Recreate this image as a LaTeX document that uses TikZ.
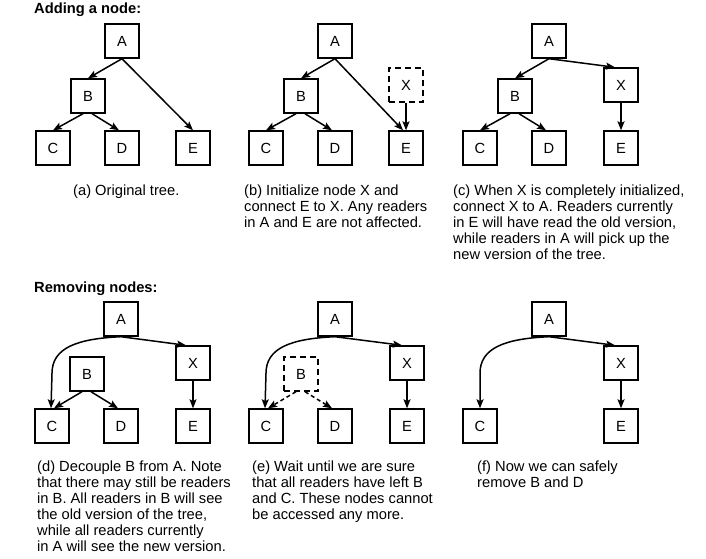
\documentclass[tikz,border=0pt]{standalone}
\usepackage{fontspec}
\setmainfont{Liberation Sans}
\usetikzlibrary{arrows.meta,calc}
\begin{document}
\begin{tikzpicture}[x=1pt,y=-1pt,
  box/.style={draw, line width=1.4pt, minimum width=34pt, minimum height=34pt, inner sep=0pt, font=\fontsize{14.7}{16}\selectfont},
  dbox/.style={box, dash pattern=on 6pt off 4pt},
  arr/.style={-{Stealth[length=9pt,width=7pt,inset=1.8pt]}, line width=1.5pt},
  darr/.style={arr, dash pattern=on 4pt off 3pt},
  captxt/.style={anchor=base west, inner sep=0pt, font=\fontsize{14.7}{16}\selectfont},
  ttl/.style={anchor=base west, inner sep=0pt, font=\fontsize{14.7}{16}\selectfont\bfseries}]
\useasboundingbox (0,0) rectangle (706,558);
\node[ttl] (t1) at (34,13) {Adding a node:};
\node[ttl] (t2) at (34,292) {Removing nodes:};
% (a)
\begin{scope}
\node[box] (aA) at (122,41) {A};
\node[box] (aB) at (88,96) {B};
\node[box] (aC) at (53,148) {C};
\node[box] (aD) at (122,148) {D};
\node[box] (aE) at (193,148) {E};
\draw[arr] (aA.south) -- (aB.north);
\draw[arr] (aA.south) -- (aE.north);
\draw[arr] ([xshift=-5pt]aB.south) -- (aC.north);
\draw[arr] ([xshift=4pt]aB.south) -- ([xshift=-3pt]aD.north);
\end{scope}
% (b)
\begin{scope}[shift={(213,0)}]
\node[box] (bA) at (122,41) {A};
\node[box] (bB) at (88,96) {B};
\node[box] (bC) at (53,148) {C};
\node[box] (bD) at (122,148) {D};
\node[box] (bE) at (193,148) {E};
\node[dbox] (bX) at (193,85) {X};
\draw[arr] (bA.south) -- ([xshift=-3pt]bE.north);
\draw[arr] (bA.south) -- (bB.north);
\draw[arr] ([xshift=-5pt]bB.south) -- (bC.north);
\draw[arr] ([xshift=4pt]bB.south) -- ([xshift=-3pt]bD.north);
\draw[arr] (bX.south) -- (bE.north);
\end{scope}
% (c)
\begin{scope}[shift={(427,0)}]
\node[box] (cA) at (122,41) {A};
\node[box] (cB) at (88,96) {B};
\node[box] (cC) at (53,148) {C};
\node[box] (cD) at (122,148) {D};
\node[box] (cE) at (194,148) {E};
\node[box] (cX) at (194,85) {X};
\draw[arr] (cA.south) -- (cB.north);
\draw[arr] (cA.south) -- ([xshift=-6pt]cX.north);
\draw[arr] ([xshift=-5pt]cB.south) -- (cC.north);
\draw[arr] ([xshift=4pt]cB.south) -- ([xshift=-3pt]cD.north);
\draw[arr] (cX.south) -- (cE.north);
\end{scope}
% (d)
\begin{scope}[shift={(-1,278)}]
\node[box] (dA) at (122,41) {A};
\node[box] (dB) at (88,96) {B};
\node[box] (dC) at (53,148) {C};
\node[box] (dD) at (122,148) {D};
\node[box] (dE) at (194,148) {E};
\node[box] (dX) at (194,85) {X};
\draw[arr] (dA.south) .. controls +(-45,2) and +(0,-25) .. ($(dC.north)+(0,-35)$) -- ([xshift=-1pt]dC.north);
\draw[arr] (dA.south) -- ([xshift=-7pt]dX.north);
\draw[arr] ([xshift=-5pt]dB.south) -- ([xshift=2pt]dC.north);
\draw[arr] ([xshift=4pt]dB.south) -- ([xshift=-3pt]dD.north);
\draw[arr] (dX.south) -- (dE.north);
\end{scope}
% (e)
\begin{scope}[shift={(213,278)}]
\node[box] (eA) at (122,41) {A};
\node[dbox] (eB) at (88,96) {B};
\node[box] (eC) at (53,148) {C};
\node[box] (eD) at (122,148) {D};
\node[box] (eE) at (194,148) {E};
\node[box] (eX) at (194,85) {X};
\draw[arr] (eA.south) .. controls +(-45,2) and +(0,-25) .. ($(eC.north)+(0,-35)$) -- ([xshift=-1pt]eC.north);
\draw[arr] (eA.south) -- ([xshift=-5pt]eX.north);
\draw[darr] ([xshift=-5pt]eB.south) -- ([xshift=2pt]eC.north);
\draw[darr] ([xshift=4pt]eB.south) -- ([xshift=-3pt]eD.north);
\draw[arr] (eX.south) -- (eE.north);
\end{scope}
% (f)
\begin{scope}[shift={(427,278)}]
\node[box] (fA) at (122,41) {A};
\node[box] (fC) at (53,148) {C};
\node[box] (fE) at (194,148) {E};
\node[box] (fX) at (194,85) {X};
\draw[arr] (fA.south) .. controls +(-45,2) and +(0,-25) .. ($(fC.north)+(0,-35)$) -- (fC.north);
\draw[arr] (fA.south) -- ([xshift=-6pt]fX.north);
\draw[arr] (fX.south) -- (fE.north);
\end{scope}
% captions
\node[captxt] (capa) at (73,195) {(a) Original tree.};
\node[captxt] (capb) at (244,195) {\begin{tabular}[t]{@{}l@{}}(b) Initialize node X and\\connect E to X. Any readers\\in A and E are not affected.\end{tabular}};
\node[captxt] (capc) at (453,195) {\begin{tabular}[t]{@{}l@{}}(c) When X is completely initialized,\\connect X to A. Readers currently\\in E will have read the old version,\\while readers in A will pick up the\\new version of the tree.\end{tabular}};
\node[captxt] (capd) at (37,471) {\begin{tabular}[t]{@{}l@{}}(d) Decouple B from A. Note\\that there may still be readers\\in B. All readers in B will see\\the old version of the tree,\\while all readers currently\\in A will see the new version.\end{tabular}};
\node[captxt] (cape) at (252,471) {\begin{tabular}[t]{@{}l@{}}(e) Wait until we are sure\\that all readers have left B\\and C. These nodes cannot\\be accessed any more.\end{tabular}};
\node[captxt] (capf) at (477,471) {\begin{tabular}[t]{@{}l@{}}(f) Now we can safely\\remove B and D\end{tabular}};
\end{tikzpicture}
\end{document}
